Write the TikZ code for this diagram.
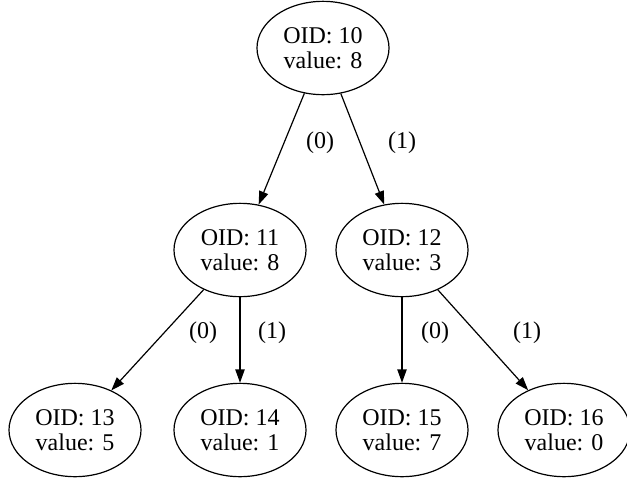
\documentclass[tikz,border=0pt]{standalone}
\usepackage{fontspec}
\setmainfont{Liberation Serif}
\usetikzlibrary{arrows.meta,shapes.geometric}

\begin{document}
\begin{tikzpicture}[x=0.75pt, y=-0.75pt]
\tikzstyle{object}=[draw, shape=ellipse, line width=0.9pt, minimum width=99pt, minimum height=70pt, inner sep=0pt, align=center, font=\fontsize{18}{18.75}\selectfont]
\tikzstyle{branch}=[-{Triangle[length=10pt, width=7pt]}, line width=0.9pt]
\tikzstyle{bit}=[font=\fontsize{18}{18.75}\selectfont]
\useasboundingbox (0,0) rectangle (627,483);
\node[object] (10) at (323,48) {OID: 10\\value: 8};
\node[object] (11) at (240,250) {OID: 11\\value: 8};
\node[object] (12) at (402,250) {OID: 12\\value: 3};
\node[object] (13) at (75,430) {OID: 13\\value: 5};
\node[object] (14) at (240,430) {OID: 14\\value: 1};
\node[object] (15) at (402,430) {OID: 15\\value: 7};
\node[object] (16) at (564,430) {OID: 16\\value: 0};

\draw[branch] (10) -- (11);
\draw[branch] (10) -- (12);
\draw[branch] (11) -- (13);
\draw[branch] (11) -- (14);
\draw[branch] (12) -- (15);
\draw[branch] (12) -- (16);

\node[bit] (b1) at (320,143) {(0)};
\node[bit] (b2) at (402,143) {(1)};
\node[bit] (b3) at (203,333) {(0)};
\node[bit] (b4) at (272,333) {(1)};
\node[bit] (b5) at (435,333) {(0)};
\node[bit] (b6) at (527,333) {(1)};

\end{tikzpicture}
\end{document}
